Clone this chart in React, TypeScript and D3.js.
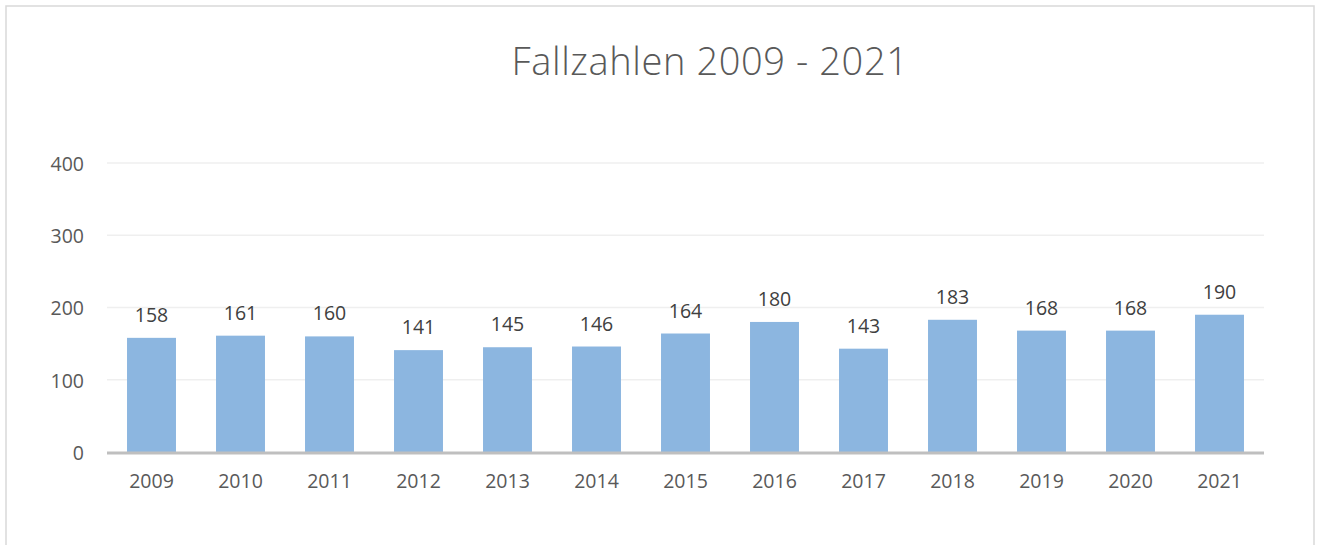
import * as d3 from "d3";

const years = ["2009", "2010", "2011", "2012", "2013", "2014", "2015", "2016", "2017", "2018", "2019", "2020", "2021"];
const cases = [158, 161, 160, 141, 145, 146, 164, 180, 143, 183, 168, 168, 190];
const yTicks = [0, 100, 200, 300, 400];
const title = "Fallzahlen 2009 - 2021";

const width = 1317;
const height = 545;
const font = "'Open Sans', 'Liberation Sans', sans-serif";

export default function App() {
  const margin = { top: 163, right: 53, bottom: 93, left: 107 };
  const boundsWidth = width - margin.left - margin.right;
  const boundsHeight = height - margin.top - margin.bottom;

  const xScale = d3.scaleBand<string>().domain(years).range([0, boundsWidth]).paddingInner(0.45).paddingOuter(0.225);
  const yScale = d3.scaleLinear().domain([0, 400]).range([boundsHeight, 0]);

  return (
    <svg width={width} height={height} style={{ position: "absolute", left: 0, top: 0, background: "#fff" }}>
      <rect x={6} y={6} width={1308} height={560} fill="#fff" stroke="#d9d9d9" strokeWidth={1.5} />
      <text x={710} y={75} textAnchor="middle" fontFamily={font} fontWeight={300} fontSize={38} letterSpacing={0.6} fill="#595959">
        {title}
      </text>
      <g transform={`translate(${margin.left},${margin.top})`}>
        {yTicks.map((t) => (
          <g key={t}>
            {t > 0 && <line x1={0} x2={boundsWidth} y1={yScale(t)} y2={yScale(t)} stroke="#efefef" strokeWidth={1.5} />}
            <text x={-23} y={yScale(t) + 1} dy="0.35em" textAnchor="end" fontFamily={font} fontSize={19.5} fill="#595959">
              {t}
            </text>
          </g>
        ))}
        {years.map((y, i) => (
          <g key={y}>
            <rect x={xScale(y)} y={yScale(cases[i])} width={xScale.bandwidth()} height={boundsHeight - yScale(cases[i])} fill="#8cb6e0" />
            <text x={(xScale(y) || 0) + xScale.bandwidth() / 2} y={yScale(cases[i]) - 16} textAnchor="middle" fontFamily={font} fontSize={19.5} fill="#404040">
              {cases[i]}
            </text>
            <text x={(xScale(y) || 0) + xScale.bandwidth() / 2} y={boundsHeight + 36} textAnchor="middle" fontFamily={font} fontSize={19.5} fill="#595959">
              {y}
            </text>
          </g>
        ))}
        <line x1={0} x2={boundsWidth} y1={boundsHeight + 1} y2={boundsHeight + 1} stroke="#bfbfbf" strokeWidth={3} />
      </g>
    </svg>
  );
}
